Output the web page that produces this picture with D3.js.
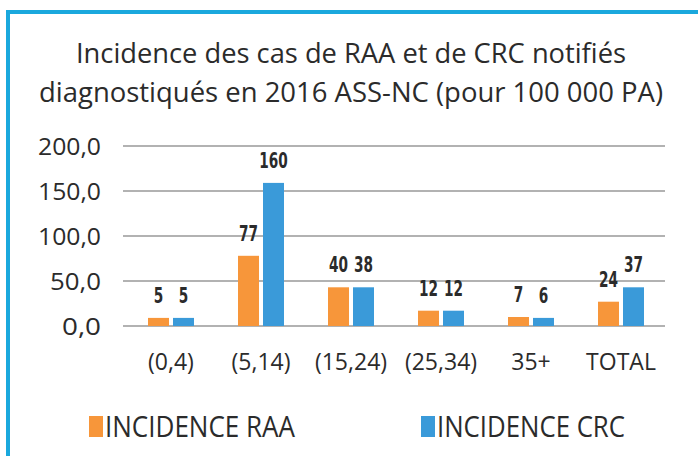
<!DOCTYPE html>
<html lang="fr">
<head>
<meta charset="UTF-8">
<title>Incidence RAA / CRC 2016</title>
<script src="https://d3js.org/d3.v7.min.js"></script>
<style>
    body { margin: 0; background: #fff; }
    text { fill: #2b2b2b; }
    .title { font-family: "Open Sans", sans-serif; font-size: 28px; }
    .tick-y { font-family: "Open Sans", sans-serif; font-size: 24px; }
    .tick-x { font-family: "Open Sans", sans-serif; font-size: 23px; }
    .val { font-family: "DejaVu Sans Condensed", "DejaVu Sans", sans-serif; font-size: 22px; font-weight: bold; }
    .legend { font-family: "Open Sans", sans-serif; font-size: 29px; }
    .grid line { stroke: #999; stroke-width: 1.5px; }
</style>
</head>
<body>
<svg width="698" height="456"></svg>
<script>
    // data
    let categories = ["(0,4)", "(5,14)", "(15,24)", "(25,34)", "35+", "TOTAL"];
    let seriesNames = ["INCIDENCE RAA", "INCIDENCE CRC"];
    // bar heights as drawn
    let raaValues = [9, 78, 43, 17, 10, 27];
    let crcValues = [9, 159, 43, 17, 9, 43];
    // printed labels
    let raaLabels = ["5", "77", "40", "12", "7", "24"];
    let crcLabels = ["5", "160", "38", "12", "6", "37"];
    let yTicks = [0, 50, 100, 150, 200];
    let colors = ["#f7963a", "#3a9ad9"];

    let svg = d3.select('svg');

    // frame
    svg.append('path')
        .attr('d', 'M8,458 L8,12 L700,12')
        .attr('fill', 'none')
        .attr('stroke', '#1aa8dd')
        .attr('stroke-width', 4);

    // title
    let titleLines = ["Incidence des cas de RAA et de CRC notifiés",
                      "diagnostiqués en 2016 ASS-NC (pour 100 000 PA)"];
    let titleWidths = [550, 624];
    svg.selectAll('text.title').data(titleLines).enter().append('text')
        .attr('class', 'title')
        .attr('x', 351)
        .attr('y', function (d, i) { return 63 + i * 39 })
        .attr('text-anchor', 'middle')
        .attr('textLength', function (d, i) { return titleWidths[i] })
        .attr('lengthAdjust', 'spacingAndGlyphs')
        .text(function (d) { return d });

    let x0 = d3.scaleBand().domain(categories).range([126, 666]);
    let x1 = d3.scaleBand().domain(seriesNames).range([22, 68]).paddingInner(0.16);
    let y = d3.scaleLinear().domain([0, 200]).range([326, 146]);

    // gridlines
    svg.append('g').attr('class', 'grid')
        .selectAll('line').data(yTicks).enter().append('line')
        .attr('x1', 123).attr('x2', 665)
        .attr('y1', function (d) { return y(d) })
        .attr('y2', function (d) { return y(d) });

    // y labels
    svg.selectAll('text.tick-y').data(yTicks).enter().append('text')
        .attr('class', 'tick-y')
        .attr('x', 101)
        .attr('y', function (d) { return y(d) + 9 })
        .attr('text-anchor', 'end')
        .attr('textLength', function (d) { return d >= 100 ? 63 : (d > 0 ? 51 : 39) })
        .attr('lengthAdjust', 'spacingAndGlyphs')
        .text(function (d) { return d3.format('.1f')(d).replace('.', ',') });

    // bars
    let rows = categories.map(function (c, i) {
        return [
            {cat: c, s: seriesNames[0], v: raaValues[i], lab: raaLabels[i], col: colors[0]},
            {cat: c, s: seriesNames[1], v: crcValues[i], lab: crcLabels[i], col: colors[1]}
        ];
    });
    let groups = svg.append('g').selectAll('g').data(rows).enter().append('g')
        .attr('transform', function (d) { return 'translate(' + x0(d[0].cat) + ',0)' });
    groups.selectAll('rect').data(function (d) { return d }).enter().append('rect')
        .attr('x', function (d) { return x1(d.s) })
        .attr('width', x1.bandwidth())
        .attr('y', function (d) { return y(d.v) })
        .attr('height', function (d) { return y(0) - y(d.v) })
        .attr('fill', function (d) { return d.col });
    groups.selectAll('text').data(function (d) { return d }).enter().append('text')
        .attr('class', 'val')
        .attr('x', function (d) { return x1(d.s) + x1.bandwidth() / 2 })
        .attr('y', function (d) { return y(d.v) - 15 })
        .attr('text-anchor', 'middle')
        .attr('textLength', function (d) { return d.lab.length * 9.5 })
        .attr('lengthAdjust', 'spacingAndGlyphs')
        .text(function (d) { return d.lab });

    // x labels
    svg.selectAll('text.tick-x').data(categories).enter().append('text')
        .attr('class', 'tick-x')
        .attr('x', function (d) { return x0(d) + x0.bandwidth() / 2 })
        .attr('y', 370)
        .attr('text-anchor', 'middle')
        .text(function (d) { return d });

    // legend
    let legX = [89, 421];
    let leg = svg.selectAll('g.leg').data(seriesNames).enter().append('g')
        .attr('class', 'leg')
        .attr('transform', function (d, i) { return 'translate(' + legX[i] + ',0)' });
    leg.append('rect')
        .attr('x', 0).attr('y', 416).attr('width', 14).attr('height', 21)
        .attr('fill', function (d, i) { return colors[i] });
    leg.append('text')
        .attr('class', 'legend')
        .attr('x', 16).attr('y', 437)
        .attr('textLength', function (d, i) { return i === 0 ? 190 : 188 })
        .attr('lengthAdjust', 'spacingAndGlyphs')
        .text(function (d) { return d });
</script>
</body>
</html>
